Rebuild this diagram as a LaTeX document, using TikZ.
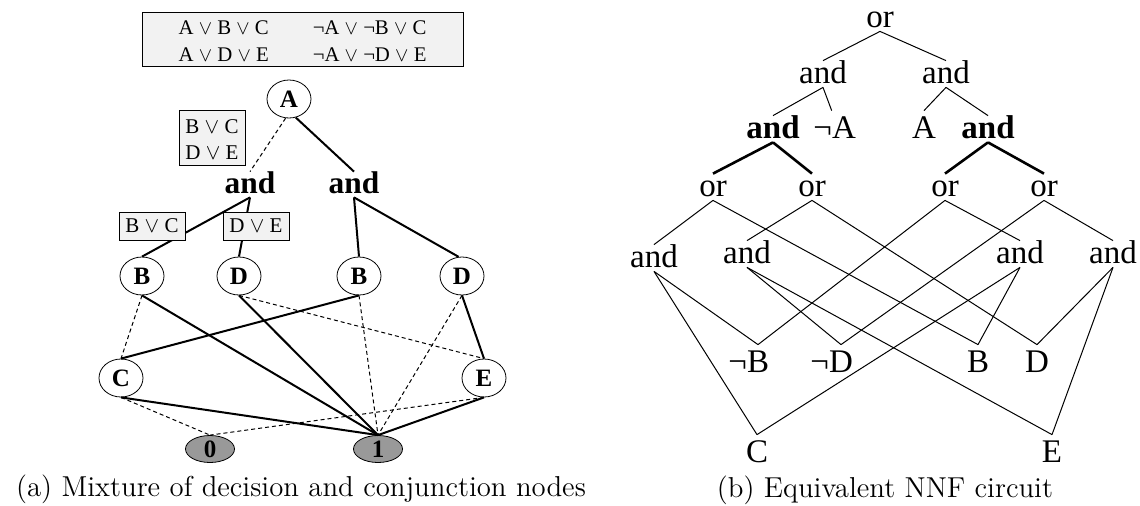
\documentclass[tikz,border=0pt]{standalone}
\usepackage{fontspec}
\newfontfamily\tms{Liberation Serif}
\usetikzlibrary{shapes.geometric}

\begin{document}
\begin{tikzpicture}[x=0.5pt, y=-0.5pt,
  every node/.style={font=\tms},
  cls/.style={draw, fill=black!5, inner sep=0pt, align=center, font=\tms\fontsize{10.5}{13}\selectfont},
  dec/.style={draw, ellipse, inner sep=0pt, minimum width=22pt, minimum height=19pt, font=\tms\bfseries\fontsize{12.5}{14}\selectfont},
  term/.style={dec, fill=black!40, minimum width=24.5pt, minimum height=13.5pt},
  conj/.style={inner sep=0pt, anchor=base, text height=10.5pt, text depth=2pt, font=\tms\bfseries\fontsize{15.7}{18}\selectfont},
  hi/.style={line width=1pt},
  lo/.style={line width=0.5pt, dash pattern=on 2pt off 1.5pt},
  gate/.style={inner sep=0pt, anchor=base, text height=11pt, text depth=2pt, font=\tms\fontsize{16.5}{20}\selectfont},
  band/.style={gate, font=\tms\bfseries\fontsize{16.5}{20}\selectfont},
  lit/.style={gate, text height=13.5pt},
  wire/.style={line width=0.5pt},
  bwire/.style={line width=1.3pt},
  capt/.style={anchor=base, inner sep=0pt, font=\rmfamily\fontsize{14.4}{17}\selectfont}]

\useasboundingbox (0,0) rectangle (1140,505);

\node[dec] (a) at (289,99) {A};
\node[conj] (andl) at (250,193) {and};
\node[conj] (andr) at (354,193) {and};
\node[dec] (bl) at (142,276) {B};
\node[dec] (dl) at (239,276) {D};
\node[dec] (br) at (359,276) {B};
\node[dec] (dr) at (462,276) {D};
\node[dec] (c) at (121,378) {C};
\node[dec] (e) at (484,378) {E};
\node[term] (zero) at (210,449) {0};
\node[term] (one) at (378,449) {1};

\draw[lo] (a.-100) -- (andl.north);
\draw[hi] (a.-70) -- (andr.north);
\draw[hi] (andl.south) -- (bl.north);
\draw[hi] (andl.south) -- (dl.north);
\draw[hi] (andr.south) -- (br.north);
\draw[hi] (andr.south) -- (dr.100);
\draw[lo] (bl.south) -- (c.north);
\draw[hi] (bl.south) -- (one.north);
\draw[hi] (dl.south) -- (one.north);
\draw[lo] (dl.south) -- (e.north);
\draw[hi] (br.south) -- (c.north);
\draw[lo] (br.south) -- (one.north);
\draw[lo] (dr.south) -- (one.north);
\draw[hi] (dr.south) -- (e.north);
\draw[lo] (c.south) -- (zero.north);
\draw[hi] (c.south) -- (one.north);
\draw[lo] (e.south) -- (zero.north);
\draw[hi] (e.south) -- (one.north);

\node[cls, minimum width=160.5pt, minimum height=27pt, font=\tms\fontsize{10.4}{13.5}\selectfont] (cnf) at (302.5,39)
  {\raisebox{-2pt}[\height][\depth]{\begin{tabular}{@{}c@{\hspace{22pt}}c@{}}
   A $\vee$ B $\vee$ C & ¬A $\vee$ ¬B $\vee$ C\\
   A $\vee$ D $\vee$ E & ¬A $\vee$ ¬D $\vee$ E\end{tabular}}};
\node[cls, minimum width=33pt, minimum height=27.5pt] (rest) at (212,137.5)
  {\raisebox{-1.8pt}[\height][\depth]{\begin{tabular}{@{}c@{}}B $\vee$ C\\ D $\vee$ E\end{tabular}}};
\node[cls, minimum width=33pt, minimum height=14pt] (bc) at (152,226) {B $\vee$ C};
\node[cls, minimum width=33pt, minimum height=14pt] (de) at (256,226) {D $\vee$ E};

\node[gate] (or0) at (880,27) {or};
\node[gate] (andl1) at (823,83) {and};
\node[gate] (andr1) at (946,83) {and};
\node[band] (bandl) at (773,138) {and};
\node[lit] (na) at (844,138) {\llap{¬}A};
\node[lit] (pa) at (924,138) {A};
\node[band] (bandr) at (988,138) {and};
\node[gate] (or1) at (713,196) {or};
\node[gate] (or2) at (812,196) {or};
\node[gate] (or3) at (945,196) {or};
\node[gate] (or4) at (1044,196) {or};
\node[gate] (a1) at (654,267) {and};
\node[gate] (a2) at (747,263) {and};
\node[gate] (a3) at (1020,263) {and};
\node[gate] (a4) at (1113,263) {and};
\node[lit] (nb) at (758,372) {\llap{¬}B};
\node[lit] (nd) at (841,372) {\llap{¬}D};
\node[lit] (pb) at (978,372) {B};
\node[lit] (pd) at (1037,372) {D};
\node[lit] (lc) at (757,462) {C};
\node[lit] (le) at (1052,462) {E};

\draw[wire] (or0.south) -- (andl1.north);
\draw[wire] (or0.south) -- (andr1.north);
\draw[wire] (andl1.south) -- (bandl.north);
\draw[wire] (andl1.south) -- (na.north west);
\draw[wire] (andr1.south) -- (pa.north);
\draw[wire] (andr1.south) -- (bandr.north);
\draw[bwire] (bandl.south) -- (or1.north);
\draw[bwire] (bandl.south) -- (or2.north);
\draw[bwire] (bandr.south) -- (or3.north);
\draw[bwire] (bandr.south) -- (or4.north);
\draw[wire] (or1.south) -- (a1.north);
\draw[wire] (or1.south) -- (pb.north);
\draw[wire] (or2.south) -- (a2.north);
\draw[wire] (or2.south) -- (pd.north);
\draw[wire] (or3.south) -- (nb.north);
\draw[wire] (or3.south) -- (a3.north);
\draw[wire] (or4.south) -- (nd.north);
\draw[wire] (or4.south) -- (a4.north);
\draw[wire] (a1.south) -- (nb.north);
\draw[wire] (a1.south) -- (lc.north);
\draw[wire] (a2.south) -- (nd.north);
\draw[wire] (a2.south) -- (le.north);
\draw[wire] (a3.south) -- (pb.north);
\draw[wire] (a3.south) -- (lc.north);
\draw[wire] (a4.south) -- (pd.north);
\draw[wire] (a4.south) -- (le.north);

\node[capt] (capa) at (301,496) {(a) Mixture of decision and conjunction nodes};
\node[capt] (capb) at (885,497) {(b) Equivalent NNF circuit};
\end{tikzpicture}
\end{document}
